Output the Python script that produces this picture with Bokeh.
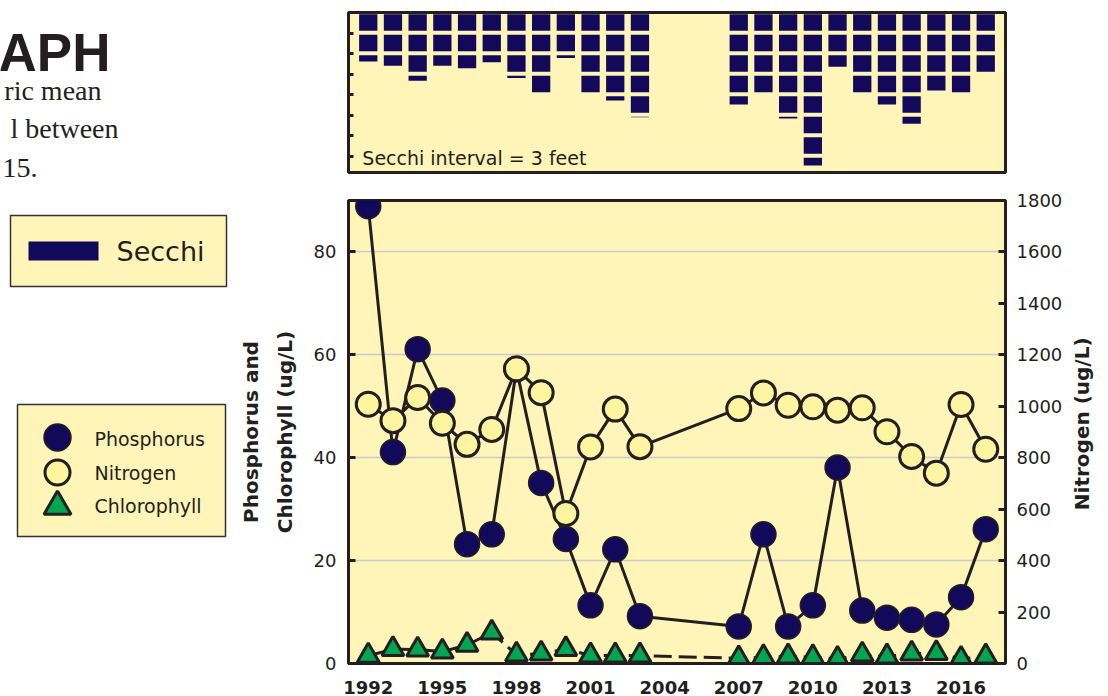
from bokeh.plotting import figure
from bokeh.layouts import row, column
from bokeh.models import Range1d, LinearAxis, FixedTicker, Label
from bokeh.core.properties import value
from bokeh.embed import file_html
from bokeh.resources import INLINE

# ---------------- data ----------------
years = [1992, 1993, 1994, 1995, 1996, 1997, 1998, 1999, 2000, 2001, 2002, 2003,
         2007, 2008, 2009, 2010, 2011, 2012, 2013, 2014, 2015, 2016, 2017]
phosphorus = [88.9, 41.1, 61.1, 51.1, 23.2, 25.1, 57.2, 35.1, 24.2, 11.3, 22.2, 9.2,
              7.2, 25.1, 7.2, 11.3, 38.1, 10.3, 8.9, 8.5, 7.6, 12.9, 26.1]
nitrogen = [1008, 944, 1034, 934, 852, 910, 1146, 1053, 583, 842, 989, 843,
            991, 1052, 1004, 998, 985, 994, 901, 805, 740, 1007, 833]
chlorophyll = [1.5, 2.8, 2.7, 2.3, 3.6, 6.0, 1.7, 1.9, 2.8, 1.55, 1.55, 1.55,
               1.0, 1.2, 1.35, 1.2, 0.9, 1.7, 1.35, 1.9, 2.0, 0.9, 1.35]
secchi_ft = [7.5, 8.1, 10.3, 8.1, 8.5, 7.6, 9.9, 12.0, 7.0, 12.0, 13.2, 15.65,
             13.8, 12.0, 15.85, 22.7, 8.25, 12.0, 13.8, 16.6, 11.75, 12.0, 9.0]
secchi_interval = 3
x_tick_years = [1992, 1995, 1998, 2001, 2004, 2007, 2010, 2013, 2016]
left_ticks = [0, 20, 40, 60, 80]
right_ticks = [0, 200, 400, 600, 800, 1000, 1200, 1400, 1600, 1800]
secchi_ticks = [3, 6, 9, 12, 15, 18, 21]

title_text = "APH"
body_lines = ["ric mean", "l between", "15."]
legend_series = ["Phosphorus", "Nitrogen", "Chlorophyll"]
right_title = "Nitrogen (ug/L)"

# ---------------- styles ----------------
NAVY = "#12095A"
BG = "#FFF5B9"
NFILL = "#FFF49F"
GREEN = "#00A651"
DARK = "#231F20"
GRID = "#C9CBD3"
SANS = "DejaVu Sans"

XMIN, XMAX = 1991.2, 2017.8
xr = Range1d(XMIN, XMAX)

# ---------------- left decorative panel ----------------
lw_ = 235
left = figure(width=lw_, height=696, x_range=Range1d(0, lw_), y_range=Range1d(696, 0),
              x_axis_type=None, y_axis_type=None, output_backend="svg",
              toolbar_location=None, min_border=0, outline_line_color=None)
left.grid.visible = False
left.text(x=[110], y=[52], text=[title_text], text_align="right",
          text_baseline="alphabetic", text_font=value("Liberation Sans"),
          text_font_style="bold", text_font_size="53px", text_color=DARK)
left.text(x=[101, 118, 37], y=[90, 128, 167], text=body_lines, text_align="right",
          text_baseline="alphabetic", text_font=value("Liberation Serif"),
          text_font_size="28px", text_color=DARK)
# Secchi legend
left.quad(left=[10], right=[226], top=[215], bottom=[286], fill_color=BG,
          line_color="#333333", line_width=1.5)
left.quad(left=[28], right=[98], top=[241], bottom=[260], fill_color=NAVY, line_color=None)
left.text(x=[116], y=[251], text=["Secchi"], text_baseline="middle",
          text_font=value(SANS), text_font_size="27px", text_color=DARK)
# series legend
left.quad(left=[17], right=[225], top=[404], bottom=[536], fill_color=BG,
          line_color="#333333", line_width=1.5)
left.scatter(x=[57], y=[437], size=27, marker="circle", fill_color=NAVY,
             line_color=DARK, line_width=1.5)
left.scatter(x=[57], y=[472], size=25, marker="circle", fill_color=NFILL,
             line_color=DARK, line_width=3)
left.scatter(x=[57], y=[506], size=27, marker="triangle", fill_color=GREEN,
             line_color=DARK, line_width=3)
left.text(x=[94, 94, 94], y=[438, 472, 505], text=legend_series, text_baseline="middle",
          text_font=value(SANS), text_font_size="19px", text_color=DARK)

# ---------------- secchi panel ----------------
rw = 873
sec = figure(width=rw, height=186, x_range=xr, y_range=Range1d(23.4, 0),
             x_axis_type=None, y_axis_type=None, output_backend="svg",
             toolbar_location=None, min_border_left=113, min_border_right=103,
             min_border_top=12, min_border_bottom=14,
             background_fill_color=BG, outline_line_color=DARK, outline_line_width=3)
sec.grid.visible = False
sax = LinearAxis(ticker=FixedTicker(ticks=secchi_ticks), axis_line_color=None,
                 major_tick_in=5, major_tick_out=0, major_tick_line_width=3,
                 major_tick_line_color=DARK, minor_tick_line_color=None,
                 major_label_text_color=None)
sec.add_layout(sax, "left")

ql, qr, qt, qb = [], [], [], []
for yr, d in zip(years, secchi_ft):
    k = 0
    while secchi_interval * k < d:
        top = secchi_interval * k + 0.25
        bot = min(secchi_interval * k + 2.67, d - 0.33)
        if bot > top:
            ql.append(yr - 0.37)
            qr.append(yr + 0.37)
            qt.append(top)
            qb.append(bot)
        k += 1
sec.quad(left=ql, right=qr, top=qt, bottom=qb, fill_color=NAVY, line_color=None)
sec.add_layout(Label(x=1991.76, y=21.35, text="Secchi interval = %d feet" % secchi_interval,
                     text_baseline="middle", text_font=SANS, text_font_size="19px",
                     text_color=DARK))

# ---------------- main panel ----------------
LMAX, RMAX = 90, 1800
lab_w = 40
main = figure(width=rw - lab_w, height=510, x_range=xr, y_range=Range1d(0, LMAX),
              output_backend="svg", toolbar_location=None,
              min_border_left=113, min_border_right=103 - lab_w, min_border_top=14,
              min_border_bottom=32, background_fill_color=BG,
              outline_line_color=DARK, outline_line_width=3)
main.extra_y_ranges = {"n": Range1d(0, RMAX)}
main.xgrid.visible = False
main.ygrid.ticker = FixedTicker(ticks=left_ticks)
main.ygrid.grid_line_color = GRID
main.ygrid.grid_line_width = 1.5

xa = main.xaxis[0]
xa.ticker = FixedTicker(ticks=x_tick_years)
xa.axis_line_width = 3
xa.axis_line_color = DARK
xa.major_tick_line_color = None
xa.minor_tick_line_color = None
xa.major_label_standoff = 11
xa.major_label_text_font = SANS
xa.major_label_text_font_style = "bold"
xa.major_label_text_font_size = "18px"
xa.major_label_text_color = DARK

ya = main.yaxis[0]
ya.ticker = FixedTicker(ticks=left_ticks)
ya.axis_line_width = 3
ya.axis_line_color = DARK
ya.major_tick_in = 7
ya.major_tick_out = 0
ya.major_tick_line_width = 3
ya.major_tick_line_color = DARK
ya.minor_tick_line_color = None
ya.major_label_standoff = 12
ya.major_label_text_font = SANS
ya.major_label_text_font_size = "18px"
ya.major_label_text_color = DARK
ya.axis_label = "Phosphorus and\nChlorophyll (ug/L)"
ya.axis_label_text_font = SANS
ya.axis_label_text_font_style = "bold"
ya.axis_label_text_font_size = "20px"
ya.axis_label_text_color = DARK
ya.axis_label_text_line_height = 1.4
ya.axis_label_standoff = 14

ra = LinearAxis(y_range_name="n", ticker=FixedTicker(ticks=right_ticks),
                axis_line_width=3, axis_line_color=DARK, major_tick_in=7,
                major_tick_out=0, major_tick_line_width=3, major_tick_line_color=DARK,
                minor_tick_line_color=None, major_label_standoff=11,
                major_label_text_font=SANS, major_label_text_font_size="18px",
                major_label_text_color=DARK)
main.add_layout(ra, "right")

main.line(years, phosphorus, line_color=DARK, line_width=3)
main.scatter(years, phosphorus, size=25, marker="circle", fill_color=NAVY,
             line_color=DARK, line_width=1.5)
main.line(years, nitrogen, y_range_name="n", line_color=DARK, line_width=3)
main.scatter(years, nitrogen, y_range_name="n", size=24, marker="circle",
             fill_color=NFILL, line_color=DARK, line_width=3)
main.line(years, chlorophyll, line_color=DARK, line_width=3, line_dash="18 7")
main.scatter(years, chlorophyll, size=22, marker="triangle", fill_color=GREEN,
             line_color=DARK, line_width=3)

# ---------------- right axis title strip ----------------
rlab = figure(width=lab_w, height=510, x_range=Range1d(0, lab_w), y_range=Range1d(510, 0),
              x_axis_type=None, y_axis_type=None, output_backend="svg",
              toolbar_location=None, min_border=0, outline_line_color=None)
rlab.grid.visible = False
rlab.text(x=[13], y=[246], text=[right_title], angle=90, angle_units="deg",
          text_align="center", text_baseline="middle", text_font=value(SANS),
          text_font_style="bold", text_font_size="20px", text_color=DARK)

root = row(left, column(sec, row(main, rlab, spacing=0), spacing=0), spacing=0)

open("out.html", "w").write(file_html(root, INLINE))
